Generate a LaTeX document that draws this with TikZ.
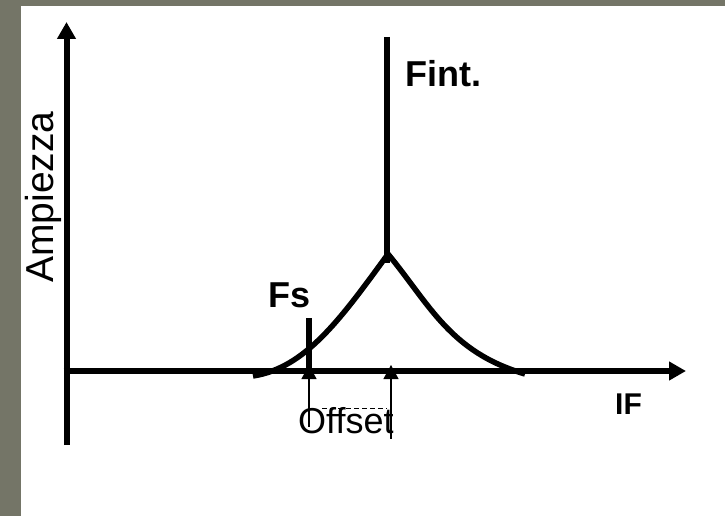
\documentclass[tikz,border=0pt]{standalone}
\usepackage{fontspec}
\setmainfont{Liberation Sans}
\usetikzlibrary{arrows.meta}
\definecolor{frame}{RGB}{116,117,103}
\begin{document}
\begin{tikzpicture}[x=1pt,y=-1pt,
  axis/.style={line width=6pt,-{Triangle[length=17pt,width=18pt]}},
  spike/.style={line width=5.5pt},
  curve/.style={line width=5.5pt,line join=miter},
  marker/.style={line width=1.2pt,{Triangle[length=14pt,width=15pt]}-},
  lbl/.style={inner sep=0pt,font=\fontsize{36}{36}\selectfont\bfseries},
  lblr/.style={inner sep=0pt,font=\fontsize{36}{36}\selectfont}]
\fill[frame] (0,0) rectangle (725,516);
\fill[white] (21,6) rectangle (725,516);
\useasboundingbox (0,0) rectangle (725,516);
% coordinates
\coordinate (ybot) at (66.5,445);
\coordinate (ytop) at (66.5,22);
\coordinate (xl) at (63.5,371);
\coordinate (xr) at (686,371);
\coordinate (ftop) at (387,37);
\coordinate (fbot) at (387,263);
\coordinate (stop) at (309,318);
\coordinate (sbot) at (309,371);
\coordinate (m1t) at (309,365);
\coordinate (m1b) at (309,427);
\coordinate (m2t) at (391,365);
\coordinate (m2b) at (391,439);
\coordinate (dl) at (322,408);
\coordinate (dr) at (387,408);
\coordinate (cl) at (253,376);
\coordinate (peak) at (388,254);
\coordinate (cr) at (525,374);
% axes
\draw[axis] (ybot) -- (ytop);
\draw[axis] (xl) -- (xr);
% spikes
\draw[spike] (ftop) -- (fbot);
\draw[spike] (stop) -- (sbot);
% curve
\draw[curve] (cl) .. controls (305,368) and (340,320) .. (peak)
  .. controls (430,305) and (450,352) .. (cr);
% offset markers
\draw[marker] (m1t) -- (m1b);
\draw[marker] (m2t) -- (m2b);
\draw[line width=1pt,dash pattern=on 5pt off 3pt] (dl) -- (dr);
% labels
\node[lbl,anchor=base west] (fint) at (405,87) {Fint.};
\node[lbl,anchor=base west] (fs) at (268,307) {Fs};
\node[lblr,anchor=base west] (off) at (298,433) {Offset};
\node[inner sep=0pt,font=\fontsize{30}{30}\selectfont\bfseries,anchor=base west] (if) at (615,414) {IF};
\node[inner sep=0pt,font=\fontsize{39}{39}\selectfont,rotate=90,anchor=base west] (amp) at (53,283) {Ampiezza};
\end{tikzpicture}
\end{document}
